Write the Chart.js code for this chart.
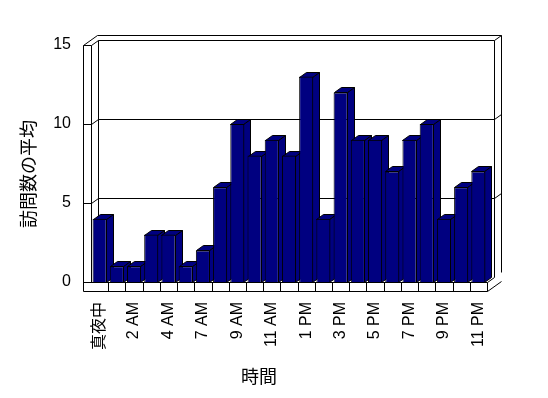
<!DOCTYPE html>
<html>
<head>
<meta charset="utf-8">
<script src="https://cdn.jsdelivr.net/npm/chart.js@4"></script>
<style>
  html, body { margin: 0; padding: 0; background: #fff; }
  canvas { display: block; }
</style>
</head>
<body>
<canvas id="myChart" width="548" height="398"></canvas>
<script>
// hours 0-23, 6 AM has no entry
var hours = ['真夜中', '1 AM', '2 AM', '3 AM', '4 AM', '5 AM', '7 AM', '8 AM', '9 AM', '10 AM', '11 AM', '正午',
  '1 PM', '2 PM', '3 PM', '4 PM', '5 PM', '6 PM', '7 PM', '8 PM', '9 PM', '10 PM', '11 PM'];
var avgVisits = [4, 1, 1, 3, 3, 1, 2, 6, 10, 8, 9, 8, 13, 4, 12, 9, 9, 7, 9, 10, 4, 6, 7];
var yTicks = [0, 5, 10, 15];

var FONT = "'Liberation Sans', 'Noto Sans CJK JP', sans-serif";
var DX = 7, DY = -5;   // depth offset of the 3d box
var WALL = 8;          // wall thickness
var NAVY = '#000080';

function poly(ctx, pts, fill) {
  ctx.beginPath();
  pts.forEach(function(p, i) {
    if (i === 0) ctx.moveTo(p[0], p[1]); else ctx.lineTo(p[0], p[1]);
  });
  if (fill) {
    ctx.closePath();
    ctx.fillStyle = fill;
    ctx.fill();
  }
  ctx.stroke();
}

function line(ctx, pts) {
  poly(ctx, pts.map(function(p) { return [Math.round(p[0]) + 0.5, Math.round(p[1]) + 0.5]; }));
}

var box3d = {
  id: 'box3d',
  beforeDatasetsDraw: function(chart) {
    var ctx = chart.ctx, a = chart.chartArea, x = chart.scales.x, y = chart.scales.y;
    var L = a.left, R = a.right;
    var T = y.getPixelForValue(yTicks[yTicks.length - 1]);
    var B = y.getPixelForValue(0);
    ctx.save();
    ctx.strokeStyle = '#000';
    ctx.lineWidth = 1;

    // back wall
    line(ctx, [[L + DX, B + DY], [L + DX, T + DY], [R + DX, T + DY], [R + DX, B + DY]]);
    // outer frame of walls
    line(ctx, [[L - WALL, B + 9], [L - WALL, T], [L - WALL + 2 * DX, T + 2 * DY], [R + 2 * DX, T + 2 * DY], [R + 2 * DX, B + 2 * DY]]);
    line(ctx, [[L - WALL, T], [L, T], [L + DX, T + DY]]);
    line(ctx, [[L, T], [L, B]]);
    line(ctx, [[R + DX, T + DY], [R + 2 * DX, T + 2 * DY]]);

    // gridlines on the walls
    yTicks.slice(1, -1).forEach(function(v) {
      var gy = y.getPixelForValue(v);
      line(ctx, [[L - WALL, gy], [L, gy], [L + DX, gy + DY], [R + DX, gy + DY], [R + 2 * DX, gy + 2 * DY]]);
    });

    // floor
    line(ctx, [[L - WALL, B], [R, B], [R + DX, B + DY]]);
    line(ctx, [[L - WALL, B + 9], [R, B + 9], [R + 2 * DX, B + 9 + 2 * DY]]);
    line(ctx, [[R, B], [R, B + 9]]);
    for (var k = 1; k < hours.length; k++) {
      var bx = (x.getPixelForTick(k - 1) + x.getPixelForTick(k)) / 2;
      line(ctx, [[bx, B], [bx, B + 9]]);
    }

    // side and top faces of the columns
    chart.getDatasetMeta(0).data.forEach(function(el) {
      var x0 = Math.round(el.x - el.width / 2) + 0.5, x1 = Math.round(el.x + el.width / 2) - 0.5;
      var top = Math.round(el.y) + 0.5, base = Math.round(el.base) + 0.5;
      poly(ctx, [[x1, top], [x1 + DX, top + DY], [x1 + DX, base + DY], [x1, base]], NAVY);
      poly(ctx, [[x0, top], [x0 + DX, top + DY], [x1 + DX, top + DY], [x1, top]], NAVY);
    });
    ctx.restore();
  },
  afterDraw: function(chart) {
    var ctx = chart.ctx;
    ctx.save();
    ctx.fillStyle = '#000';
    ctx.font = "18px 'Noto Sans CJK JP'";
    ctx.textAlign = 'center';
    ctx.textBaseline = 'middle';
    ctx.fillText('時間', 259, 376);
    ctx.translate(28, 174);
    ctx.rotate(-Math.PI / 2);
    ctx.fillText('訪問数の平均', 0, 0);
    ctx.restore();
  }
};

var ctx = document.getElementById('myChart').getContext('2d');
var myChart = new Chart(ctx, {
  type: 'bar',
  data: {
    labels: hours,
    datasets: [
      {
        label: '訪問数の平均',
        data: avgVisits,
        backgroundColor: NAVY,
        borderColor: '#000',
        borderWidth: 1,
        categoryPercentage: 1,
        barPercentage: 0.82
      }
    ]
  },
  plugins: [box3d],
  options: {
    responsive: false,
    animation: false,
    layout: { padding: { top: 45, right: 61, left: 0, bottom: 0 } },
    plugins: {
      legend: { display: false },
      tooltip: { enabled: false }
    },
    scales: {
      x: {
        offset: true,
        grid: { display: false, drawTicks: false },
        border: { display: false },
        afterFit: function(s) { s.height = 116; },
        ticks: {
          autoSkip: false,
          minRotation: 90,
          maxRotation: 90,
          padding: 20,
          color: '#000',
          font: { family: FONT, size: 16 },
          callback: function(value, index) {
            return index % 2 === 0 ? this.getLabelForValue(value) : '';
          }
        }
      },
      y: {
        min: 0,
        max: 15,
        grid: { display: false, drawTicks: false },
        border: { display: false },
        afterFit: function(s) { s.width = 91; },
        ticks: {
          stepSize: 5,
          padding: 20,
          color: '#000',
          font: { family: FONT, size: 16 }
        }
      }
    }
  }
});
</script>
</body>
</html>
